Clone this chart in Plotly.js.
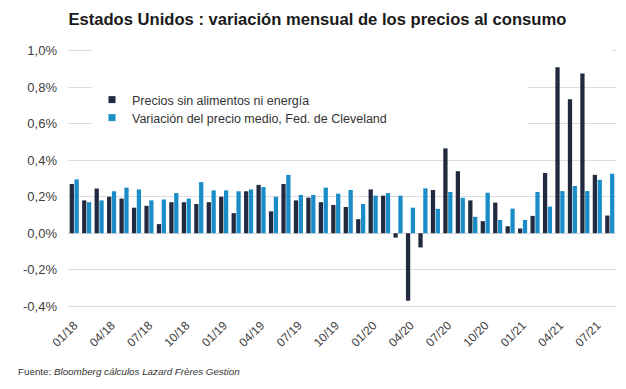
<!DOCTYPE html>
<html>
<head>
<meta charset="utf-8">
<script src="https://cdn.plot.ly/plotly-3.0.1.min.js"></script>
<style>html,body{margin:0;padding:0;background:#fff;}#chart{width:626px;height:389px;}</style>
</head>
<body>
<div id="chart"></div>
<script>
// Months 01/18 .. 08/21
const months = ["01/18","02/18","03/18","04/18","05/18","06/18","07/18","08/18","09/18","10/18","11/18","12/18",
  "01/19","02/19","03/19","04/19","05/19","06/19","07/19","08/19","09/19","10/19","11/19","12/19",
  "01/20","02/20","03/20","04/20","05/20","06/20","07/20","08/20","09/20","10/20","11/20","12/20",
  "01/21","02/21","03/21","04/21","05/21","06/21","07/21","08/21"];

// Precios sin alimentos ni energía (core CPI m/m, %)
const coreCPI = [0.27,0.18,0.245,0.20,0.19,0.14,0.15,0.05,0.17,0.17,0.16,0.17,
  0.20,0.11,0.23,0.265,0.12,0.27,0.18,0.195,0.17,0.155,0.144,0.077,
  0.24,0.206,-0.024,-0.37,-0.078,0.237,0.465,0.34,0.18,0.066,0.168,0.038,
  0.026,0.095,0.33,0.91,0.735,0.875,0.32,0.097];

// Variación del precio medio, Fed. de Cleveland (median CPI m/m, %)
const medianCPI = [0.295,0.17,0.18,0.23,0.25,0.24,0.18,0.185,0.22,0.19,0.28,0.235,
  0.235,0.23,0.24,0.253,0.20,0.32,0.21,0.21,0.25,0.217,0.237,0.16,
  0.206,0.22,0.206,0.14,0.246,0.134,0.226,0.194,0.09,0.222,0.073,0.135,
  0.073,0.226,0.146,0.231,0.259,0.231,0.293,0.326];

const tickLabels = ["01/18","04/18","07/18","10/18","01/19","04/19","07/19","10/19","01/20","04/20","07/20","10/20","01/21","04/21","07/21"];
const yTicks = [-0.4,-0.2,0,0.2,0.4,0.6,0.8,1.0];
const yTickText = ["-0,4%","-0,2%","0,0%","0,2%","0,4%","0,6%","0,8%","1,0%"];

const seriesNames = ["Precios sin alimentos ni energía","Variación del precio medio, Fed. de Cleveland"];
const colors = ["#222a40","#1a8dc8"];

const data = [
  {type:"bar", x:months, y:coreCPI, name:seriesNames[0], marker:{color:colors[0]}, showlegend:false, hoverinfo:"skip"},
  {type:"bar", x:months, y:medianCPI, name:seriesNames[1], marker:{color:colors[1]}, showlegend:false, hoverinfo:"skip"},
  {type:"scatter", mode:"markers", x:[null], y:[null], name:seriesNames[0], legend:"legend", marker:{symbol:"square", size:7, color:colors[0]}},
  {type:"scatter", mode:"markers", x:[null], y:[null], name:seriesNames[1], legend:"legend2", marker:{symbol:"square", size:7, color:colors[1]}}
];

const L = 68, R = 10, W = 626, T = 49, B = 81, H = 389;
const pw = W - L - R, ph = H - T - B;
function px2paper(px){ return (px - L) / pw; }
function py2paper(py){ return 1 - (py - T) / ph; }

const legFont = {size:12.5, color:"#333333", family:"Liberation Sans, Arial, sans-serif"};

const layout = {
  width:626, height:389,
  margin:{l:L, r:R, t:T, b:B},
  paper_bgcolor:"#fff", plot_bgcolor:"#fff",
  separators:",.",
  font:{family:"Liberation Sans, Arial, sans-serif", color:"#404040"},
  title:{text:"Estados Unidos : variación mensual de los precios al consumo",
    font:{family:"Liberation Sans, Arial, sans-serif", size:16.6, color:"#1a1a1a", weight:"bold"},
    x:0.507, xanchor:"center", xref:"container", y:1-19/389, yanchor:"middle", yref:"container"},
  barmode:"group", bargap:0.22, bargroupgap:0.12,
  xaxis:{type:"category", range:[-0.5, months.length-0.5], tickmode:"array", tickvals:tickLabels, ticktext:tickLabels,
    tickangle:-45, tickfont:{size:12, color:"#404040"}, showgrid:false, showline:false, zeroline:false,
    ticks:"", ticklabelstandoff:7, fixedrange:true},
  yaxis:{range:[-0.41,1.01], tickmode:"array", tickvals:yTicks, ticktext:yTickText,
    tickfont:{size:13, color:"#404040"}, showgrid:true, gridcolor:"#dcdcdc", gridwidth:1,
    zeroline:true, zerolinecolor:"#dcdcdc", zerolinewidth:1, showline:false, ticks:"", ticklabelstandoff:10, fixedrange:true},
  legend:{x:px2paper(92), xanchor:"left", y:py2paper(100), yanchor:"middle", bgcolor:"rgba(0,0,0,0)",
    font:legFont, itemwidth:30, borderwidth:0},
  legend2:{x:px2paper(92), xanchor:"left", y:py2paper(118), yanchor:"middle", bgcolor:"rgba(0,0,0,0)",
    font:legFont, itemwidth:30, borderwidth:0},
  shapes:[
    {type:"rect", xref:"paper", yref:"y", x0:px2paper(92), x1:px2paper(528), y0:0.5, y1:0.97, fillcolor:"#fff", line:{width:0}, layer:"above"},
    {type:"rect", xref:"paper", yref:"y", x0:px2paper(92), x1:px2paper(612), y0:0.97, y1:1.02, fillcolor:"#fff", line:{width:0}, layer:"above"}
  ],
  annotations:[
    {text:"Fuente: <i>Bloomberg cálculos Lazard Frères Gestion</i>", xref:"paper", yref:"paper",
     x:px2paper(16), xanchor:"left", y:py2paper(371), yanchor:"middle", showarrow:false,
     font:{size:9.8, color:"#333333"}}
  ]
};

Plotly.newPlot("chart", data, layout, {staticPlot:true, displayModeBar:false});
</script>
</body>
</html>
